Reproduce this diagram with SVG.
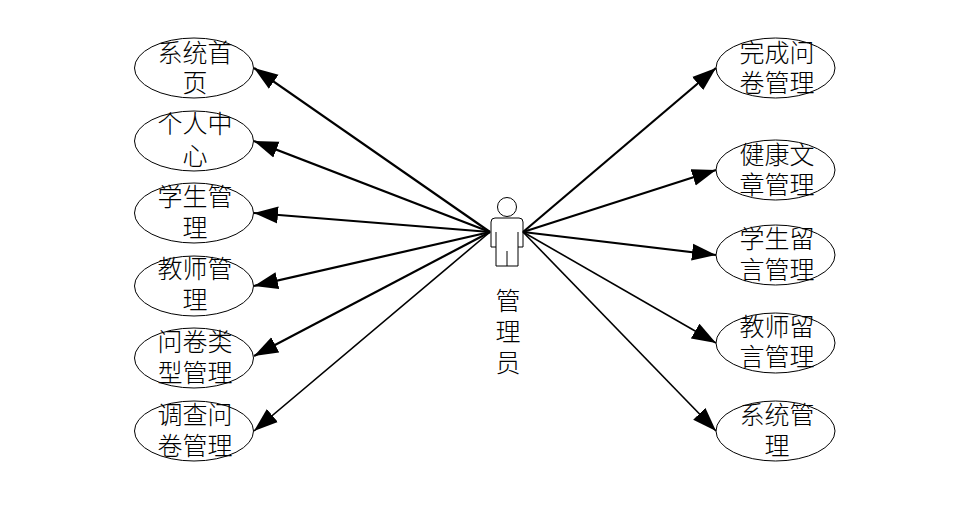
<svg xmlns="http://www.w3.org/2000/svg" width="958" height="506" viewBox="0 0 958 506">
<style>
.n ellipse{fill:#fff;stroke:#000;stroke-width:1}
text{font-family:"Liberation Serif","Noto Sans CJK SC",serif;font-size:25px;font-weight:300;fill:#000;text-anchor:middle}
.c line{stroke:#000;stroke-width:2.2;marker-end:url(#a)}
.c line.t{stroke-width:1.6}
.actor *{fill:#fff;stroke:#000;stroke-width:1}
</style>
<defs><marker id="a" markerUnits="userSpaceOnUse" markerWidth="26" markerHeight="18" refX="24" refY="9" orient="auto"><path d="M0,0.500L24,9L0,17.500z" fill="#000"/></marker></defs>
<rect width="958" height="506" fill="#fff"/>
<g id="n1" class="n"><ellipse cx="194" cy="68" rx="59.5" ry="30"/><text x="195" y="62">系统首</text><text x="195" y="92">页</text></g>
<g id="n2" class="n"><ellipse cx="194" cy="141" rx="59.5" ry="30"/><text x="195" y="133">个人中</text><text x="195" y="165">心</text></g>
<g id="n3" class="n"><ellipse cx="194" cy="213" rx="59.5" ry="30"/><text x="195" y="206">学生管</text><text x="195" y="237">理</text></g>
<g id="n4" class="n"><ellipse cx="194" cy="286" rx="59.5" ry="30"/><text x="195" y="278">教师管</text><text x="195" y="309">理</text></g>
<g id="n5" class="n"><ellipse cx="194" cy="358" rx="59.5" ry="30"/><text x="195" y="351">问卷类</text><text x="195" y="382">型管理</text></g>
<g id="n6" class="n"><ellipse cx="194" cy="431" rx="59.5" ry="30"/><text x="195" y="424">调查问</text><text x="195" y="455">卷管理</text></g>
<g id="n7" class="n"><ellipse cx="775.500" cy="68" rx="59.5" ry="30"/><text x="777" y="62">完成问</text><text x="777" y="92">卷管理</text></g>
<g id="n8" class="n"><ellipse cx="775.500" cy="170" rx="59.5" ry="30"/><text x="777" y="164">健康文</text><text x="777" y="194">章管理</text></g>
<g id="n9" class="n"><ellipse cx="775.500" cy="255" rx="59.5" ry="30"/><text x="777" y="248">学生留</text><text x="777" y="279">言管理</text></g>
<g id="n10" class="n"><ellipse cx="775.500" cy="343" rx="59.5" ry="30"/><text x="777" y="336">教师留</text><text x="777" y="366">言管理</text></g>
<g id="n11" class="n"><ellipse cx="775.500" cy="431" rx="59.5" ry="30"/><text x="777" y="424">系统管</text><text x="777" y="455">理</text></g>
<g id="actor" class="actor"><circle cx="507" cy="207" r="9.500"/><path d="M495,218H519Q523,218 523,222V247H518V266H496V247H491V222Q491,218 495,218Z"/><path d="M496,232V247M518,232V247M507,251V266"/><g><text x="508" y="310" style="fill:#000;stroke:none">管</text><text x="508" y="341" style="fill:#000;stroke:none">理</text><text x="508" y="372" style="fill:#000;stroke:none">员</text></g></g>
<g id="connectors" class="c">
<line x1="490" y1="232" x2="254" y2="68"/>
<line x1="490" y1="232" x2="254" y2="141"/>
<line x1="490" y1="232" x2="254" y2="213"/>
<line x1="490" y1="232" x2="254" y2="286"/>
<line x1="490" y1="232" x2="254" y2="356"/>
<line class="t" x1="490" y1="232" x2="254" y2="431"/>
<line x1="523" y1="232" x2="716" y2="68"/>
<line x1="523" y1="232" x2="716" y2="170"/>
<line x1="523" y1="232" x2="716" y2="255"/>
<line class="t" x1="523" y1="232" x2="716" y2="343"/>
<line class="t" x1="523" y1="232" x2="716" y2="431"/>
</g>
</svg>
